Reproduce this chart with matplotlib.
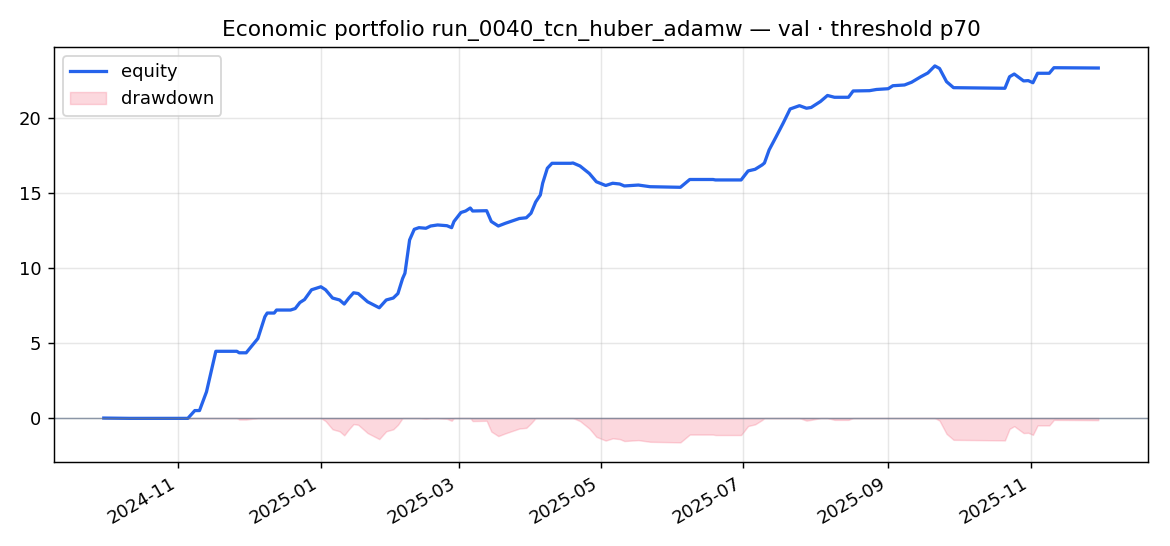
import matplotlib
matplotlib.use("Agg")
import matplotlib.pyplot as plt
import matplotlib.dates as mdates
import numpy as np
import pandas as pd

# equity curve (date, cumulative value)
dates = ["2024-09-30", "2024-10-11", "2024-11-05", "2024-11-08", "2024-11-10",
         "2024-11-13", "2024-11-17", "2024-11-26", "2024-11-27", "2024-11-30",
         "2024-12-05", "2024-12-08", "2024-12-09", "2024-12-12", "2024-12-13",
         "2024-12-19", "2024-12-21", "2024-12-23", "2024-12-25", "2024-12-28",
         "2025-01-01", "2025-01-03", "2025-01-06", "2025-01-09", "2025-01-11",
         "2025-01-13", "2025-01-15", "2025-01-17", "2025-01-21", "2025-01-26",
         "2025-01-29", "2025-02-01", "2025-02-03", "2025-02-05", "2025-02-06",
         "2025-02-08", "2025-02-10", "2025-02-12", "2025-02-15", "2025-02-17",
         "2025-02-20", "2025-02-24", "2025-02-26", "2025-02-27", "2025-03-02",
         "2025-03-04", "2025-03-06", "2025-03-07", "2025-03-13", "2025-03-15",
         "2025-03-18", "2025-03-21", "2025-03-27", "2025-03-30", "2025-04-01",
         "2025-04-03", "2025-04-05", "2025-04-06", "2025-04-08", "2025-04-10",
         "2025-04-18", "2025-04-19", "2025-04-22", "2025-04-26", "2025-04-29",
         "2025-05-03", "2025-05-06", "2025-05-09", "2025-05-11", "2025-05-17",
         "2025-05-22", "2025-06-04", "2025-06-08", "2025-06-18", "2025-06-19",
         "2025-06-30", "2025-07-03", "2025-07-06", "2025-07-09", "2025-07-10",
         "2025-07-12", "2025-07-15", "2025-07-18", "2025-07-21", "2025-07-25",
         "2025-07-28", "2025-07-30", "2025-08-03", "2025-08-06", "2025-08-09",
         "2025-08-15", "2025-08-17", "2025-08-24", "2025-08-27", "2025-09-01",
         "2025-09-03", "2025-09-08", "2025-09-11", "2025-09-15", "2025-09-18",
         "2025-09-21", "2025-09-23", "2025-09-26", "2025-09-29", "2025-10-21",
         "2025-10-23", "2025-10-25", "2025-10-29", "2025-10-31", "2025-11-02",
         "2025-11-04", "2025-11-09", "2025-11-11", "2025-11-30"]
equity = [0.0, -0.02, -0.02, 0.5, 0.5,
          1.75, 4.45, 4.45, 4.35, 4.35,
          5.3, 6.75, 7.0, 7.0, 7.2,
          7.2, 7.3, 7.7, 7.9, 8.55,
          8.75, 8.55, 8.0, 7.87, 7.6,
          8.0, 8.35, 8.3, 7.75, 7.35,
          7.87, 8.0, 8.3, 9.3, 9.65,
          11.87, 12.58, 12.69, 12.65, 12.8,
          12.87, 12.82, 12.69, 13.1, 13.7,
          13.8, 14.0, 13.8, 13.82, 13.1,
          12.8, 12.98, 13.3, 13.35, 13.65,
          14.4, 14.87, 15.65, 16.65, 16.98,
          16.98, 17.0, 16.8, 16.3, 15.75,
          15.5, 15.65, 15.6, 15.47, 15.53,
          15.42, 15.38, 15.9, 15.9, 15.87,
          15.87, 16.47, 16.58, 16.87, 17.0,
          17.87, 18.75, 19.65, 20.6, 20.82,
          20.65, 20.7, 21.1, 21.5, 21.38,
          21.38, 21.8, 21.82, 21.9, 21.95,
          22.15, 22.2, 22.38, 22.75, 23.0,
          23.47, 23.3, 22.42, 22.02, 21.98,
          22.75, 22.93, 22.47, 22.49, 22.35,
          22.98, 22.98, 23.35, 23.33]

df = pd.DataFrame({"date": pd.to_datetime(dates), "equity": equity})
df["drawdown"] = df["equity"] - df["equity"].cummax()

fig, ax = plt.subplots(figsize=(9, 4.2), dpi=130)
ax.plot(df["date"], df["equity"], color="#2563eb", linewidth=1.8, label="equity")
ax.fill_between(df["date"], df["drawdown"], 0, color="#f43f5e", alpha=0.2,
                edgecolor="#f43f5e", linewidth=0.8, label="drawdown")
ax.axhline(0, color="#64748b", linewidth=0.8, alpha=0.7)
ax.set_title("Economic portfolio run_0040_tcn_huber_adamw \u2014 val \u00b7 threshold p70")
ax.grid(alpha=0.3)
ax.legend(loc="upper left")
ax.set_ylim(-2.93, 24.73)
ax.xaxis.set_major_locator(mdates.MonthLocator(bymonth=[1, 3, 5, 7, 9, 11]))
ax.xaxis.set_major_formatter(mdates.DateFormatter("%Y-%m"))
fig.autofmt_xdate()
fig.subplots_adjust(left=0.0462, right=0.9812, top=0.9139, bottom=0.1538)
fig.savefig("out.png")
